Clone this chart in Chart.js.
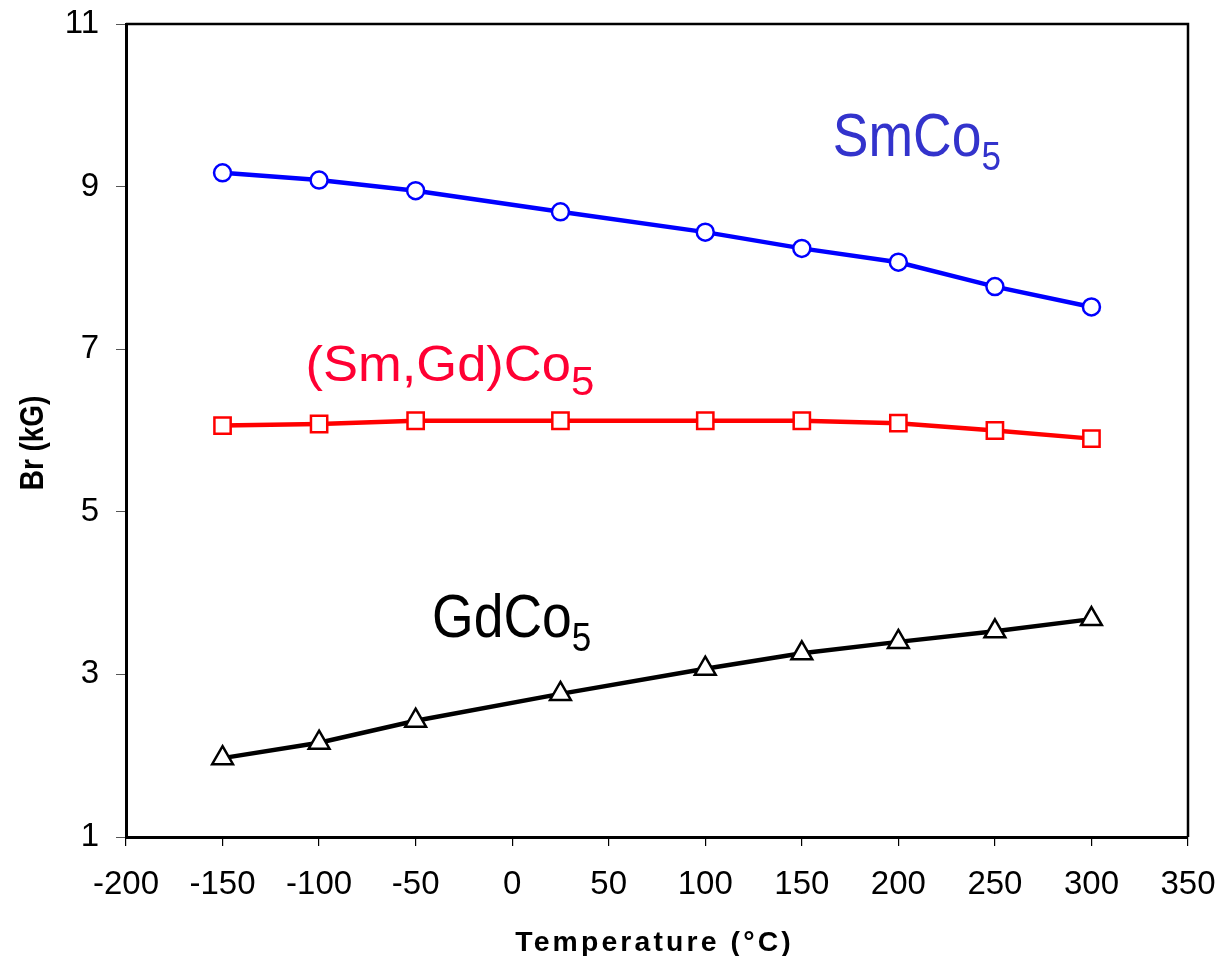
<!DOCTYPE html>
<html>
<head>
<meta charset="utf-8">
<title>Br vs Temperature</title>
<script src="https://cdn.jsdelivr.net/npm/chart.js@4.4.1/dist/chart.umd.min.js"></script>
<style>
  html, body { margin: 0; padding: 0; background: #fff; }
  #wrap { position: relative; width: 1221px; height: 956px; }
</style>
</head>
<body>
<div id="wrap"><canvas id="brChart"></canvas></div>
<script>
'use strict';

/* ── DATA ─────────────────────────── */
const temps    = [-150, -100, -50, 25, 100, 150, 200, 250, 300];
const smco5    = [9.17, 9.08, 8.95, 8.69, 8.44, 8.24, 8.07, 7.77, 7.52];
const smgdco5  = [6.06, 6.08, 6.12, 6.12, 6.12, 6.12, 6.09, 6.00, 5.90];
const gdco5    = [1.97, 2.16, 2.43, 2.76, 3.07, 3.26, 3.40, 3.53, 3.68];
const xTicks   = [-200, -150, -100, -50, 0, 50, 100, 150, 200, 250, 300, 350];
const yTicks   = [1, 3, 5, 7, 9, 11];

// series name labels: main text, subscript, anchor in data units (left edge / baseline)
const seriesNames = [
  { text: 'SmCo',      sub: '5', x: 166,   y: 9.38, size: 61, stretch: 1.07, color: '#3333cc' },
  { text: '(Sm,Gd)Co', sub: '5', x: -107,  y: 6.61, size: 50, stretch: 1.28, color: '#ff0033' },
  { text: 'GdCo',      sub: '5', x: -41.5, y: 3.46, size: 61, stretch: 1.07, color: '#000000' },
];

const toPts = ys => temps.map((t, i) => ({ x: t, y: ys[i] }));

/* ── NARROW FONT CHECK ─────────────────────────── */
function hasFont(name) {
  const c = document.createElement('canvas').getContext('2d');
  c.font = '40px monospace';
  const a = c.measureText('SmCo(Gd)').width;
  c.font = `40px "${name}", monospace`;
  return c.measureText('SmCo(Gd)').width !== a;
}
const narrow = hasFont('Liberation Sans Narrow');

/* ── PLUGINS ─────────────────────────── */
// closes the plot frame on the top and right side
const framePlugin = {
  id: 'frame',
  beforeDatasetsDraw(chart) {
    const { ctx, chartArea: a } = chart;
    ctx.save();
    ctx.strokeStyle = '#000';
    ctx.lineWidth = 2.5;
    ctx.beginPath();
    ctx.moveTo(a.left, a.top);
    ctx.lineTo(a.right, a.top);
    ctx.lineTo(a.right, a.bottom);
    ctx.stroke();
    ctx.restore();
  },
};

// axis titles, drawn here so they can be spaced / stretched
const titlePlugin = {
  id: 'axisTitles',
  afterDraw(chart) {
    const { ctx, chartArea: a } = chart;
    ctx.save();
    ctx.fillStyle = '#000';
    ctx.textAlign = 'center';
    ctx.textBaseline = 'alphabetic';

    // x title
    ctx.save();
    ctx.translate((a.left + a.right) / 2 - 4, 951);
    ctx.scale(1.05, 1);
    ctx.font = 'bold 27px "Liberation Sans", Arial, sans-serif';
    ctx.letterSpacing = '3px';
    ctx.fillText('Temperature (°C)', 1.5, 0);
    ctx.restore();

    // y title
    ctx.save();
    ctx.translate(43, 443);
    ctx.rotate(-Math.PI / 2);
    ctx.scale(0.82, 1);
    ctx.font = 'bold 34px "Liberation Sans", Arial, sans-serif';
    ctx.fillText('Br (kG)', 0, 0);
    ctx.restore();

    ctx.restore();
  },
};

// compound names with subscripts next to each curve
const namePlugin = {
  id: 'names',
  afterDatasetsDraw(chart) {
    const { ctx, scales } = chart;
    const fam = narrow ? '"Liberation Sans Narrow"' : '"Liberation Sans"';
    ctx.save();
    ctx.textBaseline = 'alphabetic';
    ctx.textAlign = 'left';
    seriesNames.forEach(n => {
      const px = scales.x.getPixelForValue(n.x);
      const py = scales.y.getPixelForValue(n.y);
      ctx.save();
      ctx.translate(px, py);
      ctx.scale(narrow ? n.stretch : n.stretch * 0.82, 1);
      ctx.fillStyle = n.color;
      ctx.font = `${n.size}px ${fam}`;
      ctx.fillText(n.text, 0, 0);
      const w = ctx.measureText(n.text).width;
      ctx.font = `40px ${fam}`;
      ctx.fillText(n.sub, w, 14);
      ctx.restore();
    });
    ctx.restore();
  },
};

/* ── CHART ─────────────────────────── */
const tickFont = { family: 'Liberation Sans, Arial, sans-serif', size: 33 };

new Chart(document.getElementById('brChart'), {
  type: 'line',
  data: {
    datasets: [
      {
        label: 'SmCo5',
        data: toPts(smco5),
        borderColor: '#0000ff',
        borderWidth: 4.5,
        pointStyle: 'circle',
        pointRadius: 8.5,
        pointBorderWidth: 2.5,
        pointBackgroundColor: '#fff',
        pointBorderColor: '#0000ff',
        tension: 0,
      },
      {
        label: '(Sm,Gd)Co5',
        data: toPts(smgdco5),
        borderColor: '#ff0000',
        borderWidth: 4.5,
        pointStyle: 'rect',
        pointRadius: 11.5,
        pointBorderWidth: 2.5,
        pointBackgroundColor: '#fff',
        pointBorderColor: '#ff0000',
        tension: 0,
      },
      {
        label: 'GdCo5',
        data: toPts(gdco5),
        borderColor: '#000',
        borderWidth: 4.5,
        pointStyle: 'triangle',
        pointRadius: 12,
        pointBorderWidth: 2.5,
        pointBackgroundColor: '#fff',
        pointBorderColor: '#000',
        tension: 0,
      },
    ],
  },
  options: {
    responsive: true,
    maintainAspectRatio: false,
    animation: false,
    layout: { padding: { top: 24, right: 33, bottom: 0, left: 0 } },
    plugins: {
      legend:  { display: false },
      tooltip: { enabled: false },
    },
    scales: {
      x: {
        type: 'linear',
        min: xTicks[0],
        max: xTicks[xTicks.length - 1],
        afterBuildTicks: s => { s.ticks = xTicks.map(v => ({ value: v })); },
        afterFit: s => { s.height = 119; s.paddingLeft = 0; s.paddingRight = 0; },
        border: { color: '#000', width: 3 },
        grid: { drawOnChartArea: false, drawTicks: true, tickLength: 9, color: '#000', lineWidth: 1.2 },
        ticks: { color: '#000', font: tickFont, padding: 19, maxRotation: 0 },
      },
      y: {
        type: 'linear',
        min: yTicks[0],
        max: yTicks[yTicks.length - 1],
        afterBuildTicks: s => { s.ticks = yTicks.map(v => ({ value: v })); },
        afterFit: s => { s.width = 126; s.paddingTop = 0; s.paddingBottom = 0; },
        border: { color: '#000', width: 3 },
        grid: { drawOnChartArea: false, drawTicks: true, tickLength: 10, color: '#555', lineWidth: 1 },
        ticks: { color: '#000', font: tickFont, padding: 17 },
      },
    },
  },
  plugins: [framePlugin, namePlugin, titlePlugin],
});
</script>
</body>
</html>
